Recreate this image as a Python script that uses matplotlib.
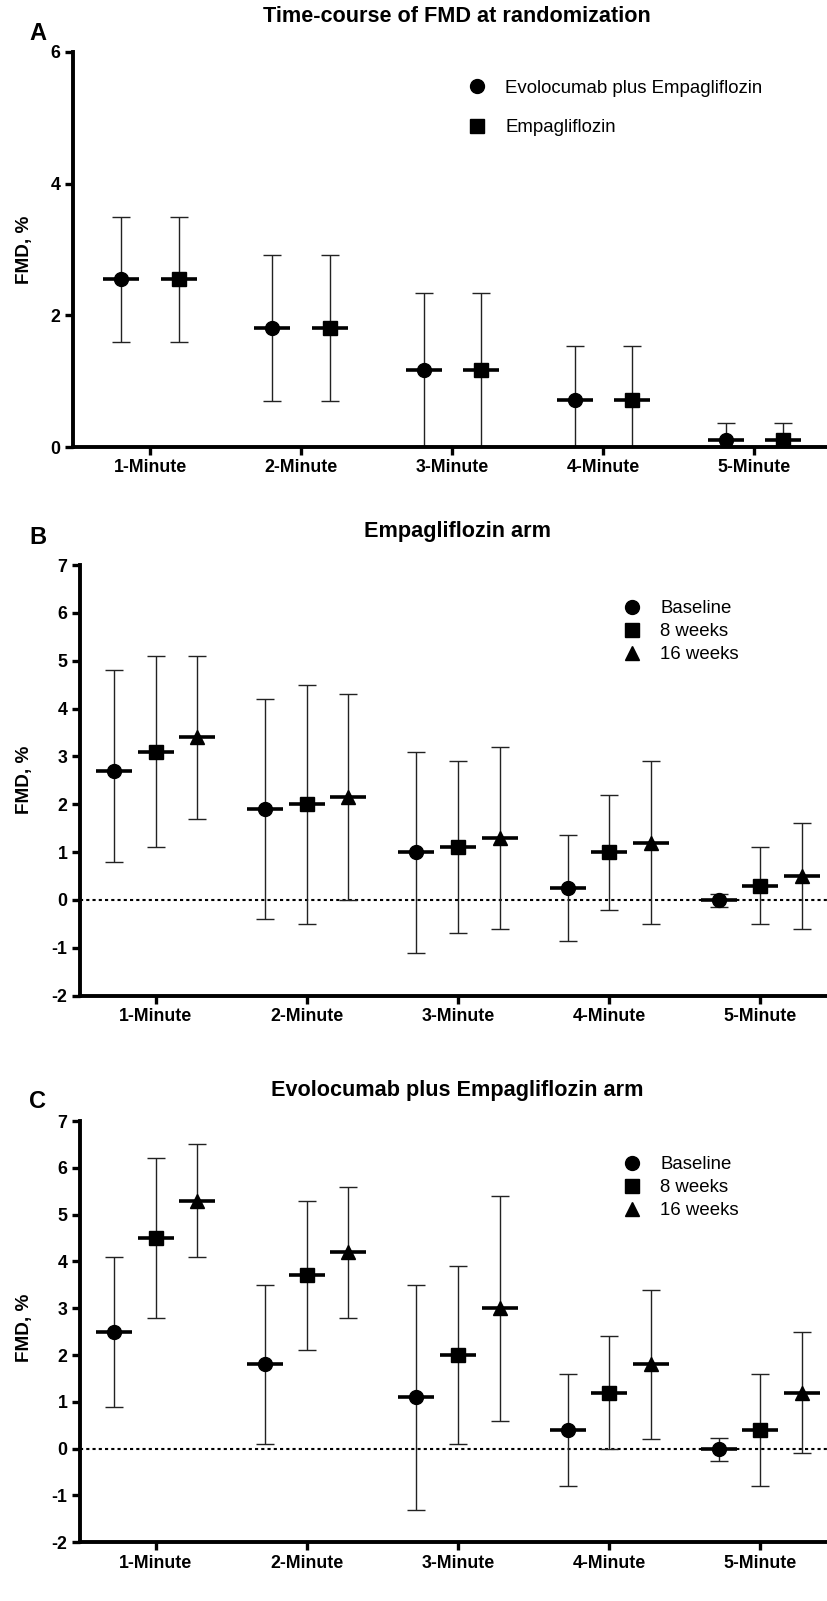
import numpy as np
import matplotlib
matplotlib.use("Agg")
import matplotlib.pyplot as plt
from matplotlib.lines import Line2D

plt.rcParams['font.family'] = ['Liberation Sans', 'DejaVu Sans']
plt.rcParams['axes.unicode_minus'] = False

minutes = ["1-Minute", "2-Minute", "3-Minute", "4-Minute", "5-Minute"]

# panel A: FMD at randomization
a_labels = ["Evolocumab plus Empagliflozin", "Empagliflozin"]
a_mean = [[2.55, 1.8, 1.17, 0.71, 0.1], [2.55, 1.8, 1.17, 0.71, 0.1]]
a_low = [[1.6, 0.7, 0.02, 0.0, 0.0], [1.6, 0.7, 0.02, 0.0, 0.0]]
a_high = [[3.5, 2.91, 2.34, 1.54, 0.36], [3.5, 2.91, 2.34, 1.54, 0.36]]

times = ["Baseline", "8 weeks", "16 weeks"]

# panel B: Empagliflozin arm
b_mean = [[2.7, 1.9, 1.0, 0.25, 0.0],
          [3.1, 2.0, 1.1, 1.0, 0.3],
          [3.4, 2.15, 1.3, 1.2, 0.5]]
b_low = [[0.8, -0.4, -1.1, -0.85, -0.15],
         [1.1, -0.5, -0.7, -0.2, -0.5],
         [1.7, 0.0, -0.6, -0.5, -0.6]]
b_high = [[4.8, 4.2, 3.1, 1.35, 0.13],
          [5.1, 4.5, 2.9, 2.2, 1.1],
          [5.1, 4.3, 3.2, 2.9, 1.6]]

# panel C: Evolocumab plus Empagliflozin arm
c_mean = [[2.5, 1.8, 1.1, 0.4, 0.0],
          [4.5, 3.7, 2.0, 1.2, 0.4],
          [5.3, 4.2, 3.0, 1.8, 1.2]]
c_low = [[0.9, 0.1, -1.3, -0.8, -0.26],
         [2.8, 2.1, 0.1, 0.0, -0.8],
         [4.1, 2.8, 0.6, 0.2, -0.1]]
c_high = [[4.1, 3.5, 3.5, 1.6, 0.23],
          [6.2, 5.3, 3.9, 2.4, 1.6],
          [6.5, 5.6, 5.4, 3.4, 2.5]]

W, H = 827, 1601
fig = plt.figure(figsize=(W / 100, H / 100), dpi=100)


def px_axes(left, top, right, bottom):
    return fig.add_axes([left / W, 1 - bottom / H, (right - left) / W, (bottom - top) / H])


def draw(ax, means, lows, highs, offsets, markers):
    x = np.arange(len(minutes))
    for m, lo, hi, off, mk in zip(means, lows, highs, offsets, markers):
        m = np.array(m); lo = np.array(lo); hi = np.array(hi)
        xs = x + off
        ax.errorbar(xs, m, yerr=[m - lo, hi - m], fmt='none', ecolor='#222222',
                    elinewidth=1.0, capsize=6.8, capthick=1.0, zorder=2)
        ax.plot(xs, m, ls='none', marker='_', ms=26, mew=2.6, color='black', zorder=3)
        ms = 10 if mk == 'o' else (9.5 if mk == 's' else 10.5)
        ax.plot(xs, m, ls='none', marker=mk, ms=ms, color='black', zorder=4)


def style(ax, ylim, yticks, xlim):
    ax.set_xlim(*xlim)
    ax.set_ylim(*ylim)
    ax.set_yticks(yticks)
    ax.set_xticks(np.arange(len(minutes)))
    ax.set_xticklabels(minutes)
    for s in ['top', 'right']:
        ax.spines[s].set_visible(False)
    for s in ['left', 'bottom']:
        ax.spines[s].set_linewidth(2.8)
    ax.tick_params(width=2.4, length=6, labelsize=12.8, pad=3)
    for lab in ax.get_xticklabels() + ax.get_yticklabels():
        lab.set_fontweight('bold')


def legend(ax, labels, markers, x, y, spacing):
    handles = []
    for mk in markers:
        ms = 10 if mk == 'o' else (9.5 if mk == 's' else 10.5)
        handles.append(Line2D([], [], ls='none', marker=mk, ms=ms, color='black'))
    ax.legend(handles, labels, loc='upper left', bbox_to_anchor=(x, y), frameon=False,
              fontsize=13.4, handlelength=1.0, handletextpad=1.0, labelspacing=spacing,
              borderpad=0, borderaxespad=0)


# Panel A
axA = px_axes(72.7, 52, 827, 447)
draw(axA, a_mean, a_low, a_high, [-0.19, 0.19], ['o', 's'])
style(axA, (0, 6), [0, 2, 4, 6], (-0.512, 4.48))
legend(axA, a_labels, ['o', 's'], 0.524, 0.93, 1.2)

# Panel B
axB = px_axes(80, 565, 827, 995.7)
axB.axhline(0, color='black', ls=(0, (1.5, 1.5)), lw=1.5, zorder=1)
draw(axB, b_mean, b_low, b_high, [-0.275, 0, 0.275], ['o', 's', '^'])
style(axB, (-2, 7), range(-2, 8), (-0.5, 4.44))
legend(axB, times, ['o', 's', '^'], 0.727, 0.918, 0.32)

# Panel C
axC = px_axes(80, 1121, 827, 1542.3)
axC.axhline(0, color='black', ls=(0, (1.5, 1.5)), lw=1.5, zorder=1)
draw(axC, c_mean, c_low, c_high, [-0.275, 0, 0.275], ['o', 's', '^'])
style(axC, (-2, 7), range(-2, 8), (-0.5, 4.44))
legend(axC, times, ['o', 's', '^'], 0.727, 0.916, 0.32)

# titles, panel letters, y labels
titles = ["Time-course of FMD at randomization", "Empagliflozin arm",
          "Evolocumab plus Empagliflozin arm"]
for t, yc in zip(titles, [17, 531.7, 1090]):
    fig.text(457 / W, 1 - yc / H, t, ha='center', va='center', fontsize=15.6, fontweight='bold')
for letter, yc in zip(["A", "B", "C"], [33, 538, 1102]):
    fig.text(38 / W, 1 - yc / H, letter, ha='center', va='center', fontsize=17, fontweight='bold')
for yc in [250, 780, 1328]:
    fig.text(24 / W, 1 - yc / H, "FMD, %", ha='center', va='center', rotation=90,
             fontsize=13.6, fontweight='bold')

fig.savefig("out.png", dpi=100)
